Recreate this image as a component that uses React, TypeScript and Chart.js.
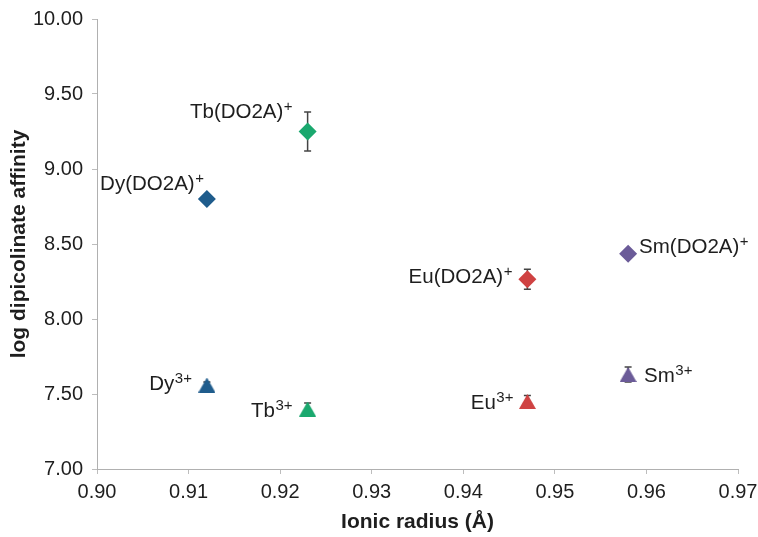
import React, { useEffect, useRef } from "react";
import { Chart, registerables } from "chart.js";

Chart.register(...registerables);

// Data
const ions = ["Dy", "Tb", "Eu", "Sm"];
const ionicRadius = [0.912, 0.923, 0.947, 0.958];
const complexAffinity = [8.8, 9.25, 8.265, 8.435];
const complexError = [0, 0.13, 0.067, 0];
const freeAffinity = [7.56, 7.4, 7.45, 7.63];
const freeError = [0.02, 0.04, 0.04, 0.05];
const complexLabels = ["Dy(DO2A)", "Tb(DO2A)", "Eu(DO2A)", "Sm(DO2A)"];
const complexSup = ["+", "+", "+", "+"];
const freeLabels = ["Dy", "Tb", "Eu", "Sm"];
const freeSup = ["3+", "3+", "3+", "3+"];
const xTicks = { min: 0.9, max: 0.97, step: 0.01 };
const yTicks = { min: 7, max: 10, step: 0.5 };

const colors = ["#1f5c8c", "#1aa86e", "#cf4242", "#6b5b98"];

// label placement: pixel offsets from point (dx to text edge, dy to baseline)
const complexLabelPos = [
  { side: "left", dx: -3, dy: -9 },
  { side: "left", dx: -15, dy: -14 },
  { side: "left", dx: -15, dy: 4 },
  { side: "right", dx: 11, dy: -1 },
];
const freeLabelPos = [
  { side: "left", dx: -15, dy: 5 },
  { side: "left", dx: -15, dy: 8 },
  { side: "left", dx: -14, dy: 7 },
  { side: "right", dx: 16, dy: 7 },
];

const FONT = "'Liberation Sans', Arial, sans-serif";

function makeTriangle(color: string) {
  const c = document.createElement("canvas");
  c.width = 17;
  c.height = 15;
  const g = c.getContext("2d")!;
  g.fillStyle = color;
  g.beginPath();
  g.moveTo(8.5, 0);
  g.lineTo(17, 15);
  g.lineTo(0, 15);
  g.closePath();
  g.fill();
  return c;
}

const errorBarPlugin = {
  id: "errorBars",
  beforeDatasetsDraw(chart: any) {
    const ctx = chart.ctx;
    const y = chart.scales.y;
    chart.data.datasets.forEach((ds: any, di: number) => {
      const meta = chart.getDatasetMeta(di);
      meta.data.forEach((pt: any, i: number) => {
        const err = ds.errors[i];
        if (!err) return;
        const v = ds.data[i].y;
        const top = y.getPixelForValue(v + err);
        const bot = y.getPixelForValue(v - err);
        ctx.save();
        ctx.strokeStyle = "#444";
        ctx.lineWidth = 1.5;
        ctx.beginPath();
        ctx.moveTo(pt.x, top);
        ctx.lineTo(pt.x, bot);
        ctx.moveTo(pt.x - 3.5, top);
        ctx.lineTo(pt.x + 3.5, top);
        ctx.moveTo(pt.x - 3.5, bot);
        ctx.lineTo(pt.x + 3.5, bot);
        ctx.stroke();
        ctx.restore();
      });
    });
  },
};

const labelPlugin = {
  id: "pointLabels",
  afterDraw(chart: any) {
    const ctx = chart.ctx;
    chart.data.datasets.forEach((ds: any, di: number) => {
      const meta = chart.getDatasetMeta(di);
      meta.data.forEach((pt: any, i: number) => {
        const main = ds.labelText[i];
        const sup = ds.supText[i];
        const pos = ds.labelPos[i];
        ctx.save();
        ctx.fillStyle = "#1e1e1e";
        ctx.textBaseline = "alphabetic";
        ctx.textAlign = "left";
        const mainFont = `20.5px ${FONT}`;
        const supFont = `${ds.supSize}px ${FONT}`;
        ctx.font = mainFont;
        const wMain = ctx.measureText(main).width;
        ctx.font = supFont;
        const wSup = ctx.measureText(sup).width;
        const total = wMain + wSup + ds.supGap;
        const x0 = pos.side === "left" ? pt.x + pos.dx - total : pt.x + pos.dx;
        const yb = pt.y + pos.dy;
        ctx.font = mainFont;
        ctx.fillText(main, x0, yb);
        ctx.font = supFont;
        ctx.fillText(sup, x0 + wMain + ds.supGap, yb - ds.supRaise);
        ctx.restore();
      });
    });
  },
};

export default function App() {
  const ref = useRef<HTMLCanvasElement | null>(null);
  useEffect(() => {
    if (!ref.current) return;
    const triangles = colors.map(makeTriangle);
    const chart = new Chart(ref.current, {
      type: "scatter",
      data: {
        datasets: [
          {
            label: "DO2A complexes",
            data: ionicRadius.map((x, i) => ({ x, y: complexAffinity[i] })),
            pointStyle: "rectRot",
            pointRadius: 9,
            pointHoverRadius: 9,
            backgroundColor: colors,
            borderColor: colors,
            borderWidth: 0,
            errors: complexError,
            labelText: complexLabels,
            supText: complexSup,
            labelPos: complexLabelPos,
            supSize: 15,
            supRaise: 7,
            supGap: 0.5,
          } as any,
          {
            label: "Free ions",
            data: ionicRadius.map((x, i) => ({ x, y: freeAffinity[i] })),
            pointStyle: triangles,
            pointRadius: 9,
            pointHoverRadius: 9,
            backgroundColor: colors,
            borderColor: colors,
            borderWidth: 0,
            errors: freeError,
            labelText: freeLabels,
            supText: freeSup,
            labelPos: freeLabelPos,
            supSize: 15,
            supRaise: 7,
            supGap: 0.5,
          } as any,
        ],
      },
      options: {
        responsive: false,
        animation: false,
        devicePixelRatio: 1,
        layout: { padding: { top: 19, right: 20, left: 0, bottom: 0 }, autoPadding: false },
        plugins: { legend: { display: false }, tooltip: { enabled: false } },
        scales: {
          x: {
            type: "linear",
            min: xTicks.min,
            max: xTicks.max,
            afterFit: (s: any) => {
              s.height = 68;
              s.paddingLeft = 0;
              s.paddingRight = 0;
            },
            afterBuildTicks: (s: any) => {
              const t = [];
              for (let v = xTicks.min; v <= xTicks.max + 1e-9; v += xTicks.step) t.push({ value: +v.toFixed(4) });
              s.ticks = t;
            },
            ticks: {
              callback: (v: any) => Number(v).toFixed(2),
              font: { family: FONT, size: 20 },
              color: "#1e1e1e",
              padding: 6,
              maxRotation: 0,
              autoSkip: false,
            },
            grid: { drawOnChartArea: false, drawTicks: true, tickLength: 5, color: "#bdbdbd" },
            border: { color: "#b0b0b0", width: 1 },
            title: {
              display: true,
              text: "Ionic radius (Å)",
              font: { family: FONT, size: 21, weight: "bold" },
              color: "#1e1e1e",
              padding: { top: 0, bottom: 2 },
            },
          },
          y: {
            type: "linear",
            min: yTicks.min,
            max: yTicks.max,
            afterFit: (s: any) => {
              s.width = 97;
              s.paddingTop = 0;
              s.paddingBottom = 0;
            },
            afterBuildTicks: (s: any) => {
              const t = [];
              for (let v = yTicks.min; v <= yTicks.max + 1e-9; v += yTicks.step) t.push({ value: +v.toFixed(4) });
              s.ticks = t;
            },
            ticks: {
              callback: (v: any) => Number(v).toFixed(2),
              font: { family: FONT, size: 20 },
              color: "#1e1e1e",
              padding: 9,
              autoSkip: false,
            },
            grid: { drawOnChartArea: false, drawTicks: true, tickLength: 5, color: "#bdbdbd" },
            border: { color: "#b0b0b0", width: 1 },
            title: {
              display: true,
              text: "log dipicolinate affinity",
              font: { family: FONT, size: 21, weight: "bold" },
              color: "#1e1e1e",
              padding: { top: 7, bottom: 0 },
            },
          },
        },
      },
      plugins: [errorBarPlugin, labelPlugin],
    } as any);
    return () => chart.destroy();
  }, []);
  return (
    <div style={{ position: "fixed", left: 0, top: 0, width: 758, height: 537, background: "#fff" }}>
      <canvas ref={ref} width={758} height={537} />
    </div>
  );
}
